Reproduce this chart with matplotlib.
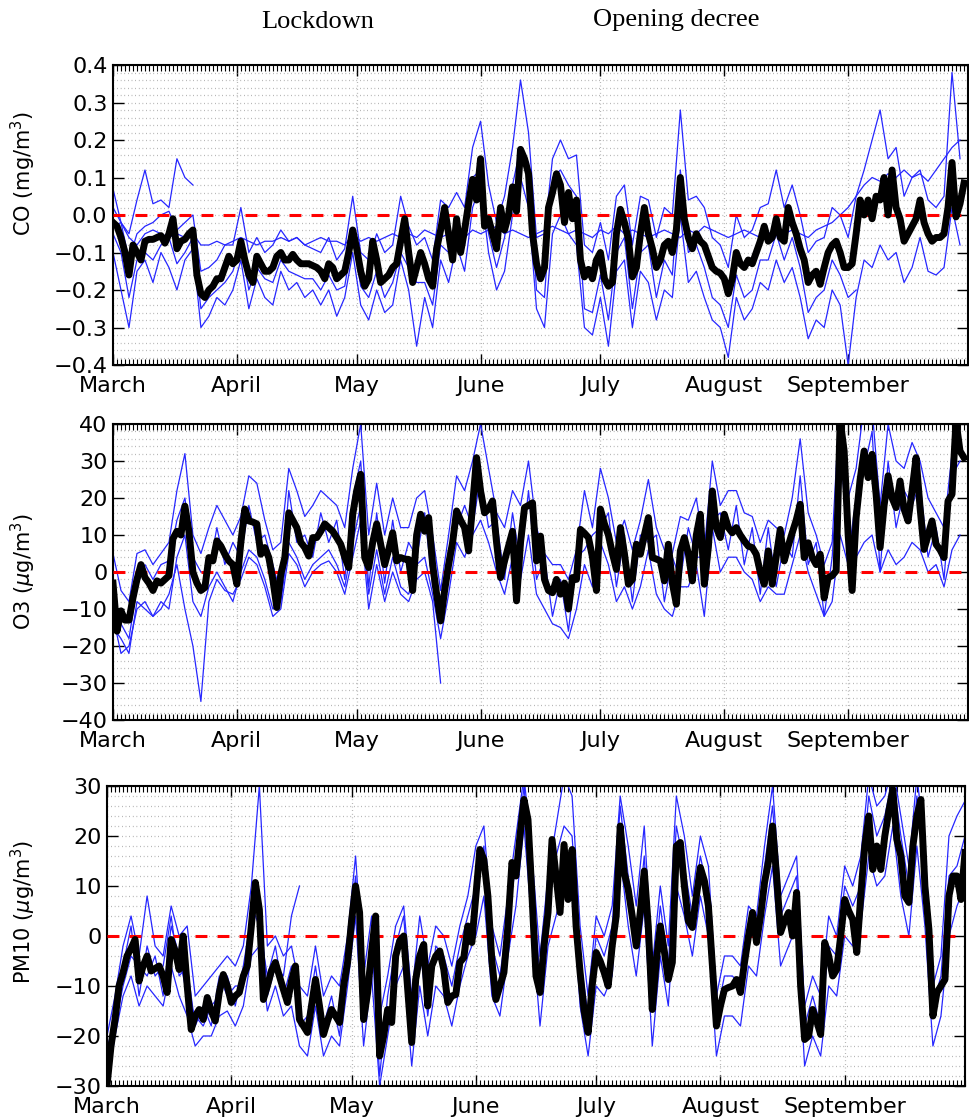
import numpy as np
import matplotlib
matplotlib.use("Agg")
import matplotlib.pyplot as plt
from matplotlib.ticker import MultipleLocator, FuncFormatter

# ---------------- data (daily values from 1 March) ----------------
months = ["March", "April", "May", "June", "July", "August", "September"]
month_days = [0, 31, 61, 92, 122, 153, 184]

co_mean = [-0.02,-0.03,-0.06,-0.10,-0.16,-0.08,-0.10,-0.12,-0.07,-0.065,-0.065,-0.06,-0.055,-0.075,-0.05,-0.01,-0.09,-0.07,-0.065,-0.05,
           -0.04,-0.16,-0.21,-0.22,-0.20,-0.19,-0.17,-0.17,-0.14,-0.11,-0.13,-0.12,-0.07,-0.12,-0.16,-0.18,-0.11,-0.13,-0.15,-0.15,
           -0.14,-0.11,-0.10,-0.12,-0.12,-0.105,-0.12,-0.13,-0.13,-0.13,-0.135,-0.14,-0.15,-0.17,-0.13,-0.14,-0.17,-0.16,-0.15,-0.10,
           -0.04,-0.09,-0.15,-0.19,-0.17,-0.07,-0.12,-0.18,-0.17,-0.16,-0.14,-0.13,-0.07,-0.01,-0.10,-0.18,-0.14,-0.10,-0.13,-0.17,
           -0.19,-0.09,-0.04,0.02,-0.05,-0.12,-0.01,-0.10,-0.04,0.03,0.095,0.04,0.15,-0.03,-0.01,-0.05,-0.09,0.02,-0.04,0.00,
           0.075,0.01,0.175,0.15,0.11,-0.05,-0.13,-0.17,-0.14,0.02,0.06,0.11,0.08,-0.02,0.06,-0.01,0.04,-0.12,-0.165,-0.145,
           -0.17,-0.12,-0.10,-0.17,-0.19,-0.18,-0.05,0.015,-0.02,-0.065,-0.165,-0.14,-0.05,0.02,-0.05,-0.09,-0.14,-0.12,-0.08,-0.07,
           -0.10,-0.04,0.10,-0.01,-0.06,-0.09,-0.05,-0.07,-0.08,-0.11,-0.14,-0.15,-0.155,-0.17,-0.21,-0.17,-0.10,-0.13,-0.14,-0.12,
           -0.13,-0.10,-0.07,-0.03,-0.07,-0.06,-0.01,-0.06,-0.07,0.02,-0.02,-0.05,-0.09,-0.12,-0.18,-0.16,-0.15,-0.185,-0.14,-0.10,
           -0.08,-0.07,-0.10,-0.14,-0.14,-0.13,-0.05,0.04,0.00,0.04,-0.01,0.05,0.04,0.10,0.00,0.12,0.02,-0.01,-0.07,-0.05,
           -0.03,-0.01,0.04,-0.02,-0.05,-0.07,-0.06,-0.06,-0.05,0.02,0.14,-0.005,0.03,0.085]

# station series, one value every second day
co_st1 = [-0.03,-0.02,-0.06,-0.08,-0.05,-0.04,-0.05,-0.06,-0.05,-0.06,-0.05,-0.08,-0.08,-0.07,-0.08,-0.07,-0.06,-0.07,-0.08,-0.07,
          -0.07,-0.06,-0.07,-0.06,-0.08,-0.07,-0.06,-0.07,-0.07,-0.08,-0.05,-0.07,-0.06,-0.07,-0.06,-0.05,-0.06,-0.05,-0.06,-0.04,
          -0.05,-0.06,-0.05,-0.05,-0.06,-0.04,-0.05,-0.04,-0.03,-0.05,-0.04,-0.05,-0.06,-0.05,-0.04,-0.03,-0.04,-0.05,-0.04,-0.05,
          -0.06,-0.04,-0.05,-0.03,-0.05,-0.04,-0.05,-0.06,-0.05,-0.04,-0.05,-0.06,-0.04,-0.05,-0.03,-0.04,-0.05,-0.06,-0.05,-0.04,
          -0.05,-0.06,-0.05,-0.04,-0.05,-0.04,-0.05,-0.06,-0.04,-0.03,-0.02,0.00,0.02,0.05,0.08,0.10,0.09,0.11,0.10,0.12,
          0.10,0.11,0.09,0.12,0.15,0.18,0.20]
co_st2 = [0.07,-0.02,-0.05,0.04,0.12,0.03,0.04,0.02,0.15,0.10,0.08]
co_st3 = [-0.10,-0.20,-0.30,-0.15,-0.12,-0.18,-0.10,-0.14,-0.20,-0.12,-0.09,-0.30,-0.27,-0.22,-0.24,-0.20,-0.12,-0.25,-0.17,-0.22,
          -0.24,-0.15,-0.20,-0.18,-0.22,-0.20,-0.24,-0.20,-0.27,-0.22,-0.10,-0.24,-0.28,-0.20,-0.26,-0.24,-0.12,-0.20,-0.35,-0.22,
          -0.30,-0.12,-0.18,-0.08,-0.15,0.02,0.08,-0.10,-0.20,-0.15,0.00,0.10,0.02,-0.25,-0.30,-0.05,0.00,-0.05,-0.08,-0.30,
          -0.32,-0.22,-0.35,-0.15,-0.12,-0.30,-0.15,-0.18,-0.28,-0.20,-0.22,0.00,-0.18,-0.15,-0.22,-0.28,-0.30,-0.38,-0.22,-0.28,
          -0.25,-0.18,-0.20,-0.12,-0.18,-0.14,-0.22,-0.33,-0.28,-0.30,-0.20,-0.24,-0.40,-0.22,-0.12,-0.14,-0.08,-0.12,-0.10,-0.18,
          -0.14,-0.06,-0.15,-0.16,-0.14,0.02,-0.08]
co_st4 = [0.02,-0.02,-0.12,-0.05,-0.03,-0.02,0.00,0.01,-0.04,-0.02,0.00,-0.15,-0.14,-0.12,-0.08,-0.08,0.02,-0.10,-0.06,-0.10,
          -0.08,-0.04,-0.07,-0.06,-0.08,-0.09,-0.10,-0.06,-0.12,-0.09,0.05,-0.10,-0.12,-0.05,-0.10,-0.08,0.05,-0.03,-0.08,-0.06,
          -0.12,0.04,0.02,0.06,0.02,0.18,0.25,0.08,-0.02,0.05,0.18,0.36,0.22,-0.06,-0.05,0.15,0.20,0.15,0.16,-0.08,
          -0.10,-0.02,-0.12,0.05,0.08,-0.08,0.05,0.04,-0.06,0.02,0.00,0.28,0.04,0.05,0.02,-0.06,-0.08,-0.14,0.00,-0.06,
          -0.04,0.02,0.03,0.12,0.02,0.08,0.00,-0.10,-0.07,-0.06,0.02,0.00,-0.06,0.05,0.12,0.20,0.28,0.15,0.18,0.05,
          0.10,0.12,0.04,0.02,0.05,0.38,0.15]
co_st5 = [-0.05,-0.10,-0.22,-0.12,-0.10,-0.12,-0.08,-0.06,-0.13,-0.10,-0.06,-0.25,-0.22,-0.20,-0.18,-0.15,-0.08,-0.20,-0.14,-0.17,
          -0.18,-0.12,-0.15,-0.16,-0.17,-0.17,-0.20,-0.16,-0.20,-0.19,-0.06,-0.19,-0.22,-0.15,-0.22,-0.18,-0.10,-0.14,-0.18,-0.18,
          -0.24,-0.08,-0.10,-0.04,-0.08,0.10,0.12,-0.05,-0.14,-0.06,0.08,0.18,0.14,-0.20,-0.22,0.10,0.12,0.08,0.05,-0.25,
          -0.26,-0.16,-0.28,-0.10,-0.06,-0.25,-0.10,-0.08,-0.22,-0.12,-0.16,0.12,-0.10,-0.08,-0.14,-0.22,-0.24,-0.30,-0.16,-0.22,
          -0.20,-0.12,-0.12,-0.05,-0.12,-0.06,-0.14,-0.26,-0.22,-0.20,-0.12,-0.16,-0.22,-0.20]

o3_mean = [-3,-16,-10.5,-13,-13,-7,-2,2,-1.5,-3,-5,-2.4,-3,-2,-1,9,11,10,17.8,11,
           0,-3,-5,-4.2,3.9,3,8.4,7,4.8,3,2,-3.3,8,17,13.8,13.5,13,4.8,6.6,3.9,
           -2,-9.6,-0.6,3.9,16,14,12,8,6.6,4.3,9.3,9.3,11,13,12,11,9.3,7.5,4,1.2,
           15.6,22,26.4,3.9,1.2,8,13,7.5,2,6,10.6,3,3.9,3.5,3.4,-5,10,15.6,11,14.7,
           2,-6,-13.2,-5,2,8,16.5,14,12,5.7,18,30.9,21.9,16,17,19.2,8,-1.5,3,7,
           11,-7.8,8,17.4,18,18.7,3,9.7,-2,-5,-5.6,-2,-6,-3,-10,-1.5,-2,11.5,10.5,9.3,
           4,-5,17,13,10,5,0.7,12,5,-3.3,-2,7.5,4.8,10,14.7,3.9,3.5,3,-2.4,7.5,
           -3,-8.7,5.7,9.3,5,-2.4,10,15.6,-3.3,6.6,21.9,12,9.3,15.6,12,10.6,12,10,8.4,7,
           6.6,4.8,0,-3.3,5.7,-3.3,4,11.5,3,7,10.6,14,18.3,3.9,7.9,4,2,4.8,-7,-1.5,
           -1,0.3,41,32.7,10,-5,14.7,25,32.7,25.5,31.8,21,6.6,18,26,20,17.4,24.6,17,13.8,
           22,30.9,17.4,6.1,10,13.8,7.5,6,3.9,19.2,21,40.8,32.7,30.9]

o3_st1 = [5,-5,-8,5,6,2,5,8,22,32,10,5,12,18,14,10,15,26,24,14,
          6,8,28,22,15,18,22,20,18,12,28,40,10,24,10,20,12,12,20,22,
          10,-5,10,26,22,30,40,28,16,12,22,18,30,12,5,2,2,-2,6,22,
          12,28,20,8,14,6,14,25,12,6,5,15,14,20,6,30,18,22,22,16,
          15,8,14,12,10,20,36,16,10,2,8,48,20,28,45,44,18,40,30,28,
          35,30,20,16,12,32,45]
o3_st2 = [-12,-22,-20,-10,-8,-12,-10,-6,2,-10,-20,-35,-8,-2,-5,-6,-2,4,2,-4,
          -12,-10,5,2,-4,0,2,3,0,-6,4,14,-10,2,-8,0,-6,-8,-2,0,
          -8,-30]
o3_st3 = [-8,-14,-18,-4,2,-2,2,3,14,20,4,0,0,12,2,8,4,18,8,10,
          2,-6,22,8,10,4,16,8,14,-2,20,30,-4,16,-3,14,0,8,4,16,
          -4,-8,6,12,18,12,26,12,14,-2,16,2,22,-2,4,-12,-2,-16,4,6,
          10,12,16,-4,10,-8,10,8,10,-8,4,-2,12,4,4,14,16,6,18,2,
          12,-6,12,-4,8,4,26,2,8,-12,4,36,4,20,28,38,0,30,12,22,
          18,24,4,12,-2,26,30]
o3_st4 = [-15,-18,-22,-8,-10,-12,-8,-10,4,10,-8,-12,-4,0,-4,-8,0,6,4,-2,
          -10,-8,8,4,-2,2,4,6,2,-4,8,18,-6,6,-6,4,-4,-6,2,4,
          -6,-18,-6,8,4,10,14,8,0,-6,4,-2,10,-6,-10,-14,-15,-18,-10,2,
          -4,8,2,-8,-4,-10,-4,6,-6,-10,-12,-4,-4,2,-12,12,0,4,4,0,
          -2,-8,-4,-6,-6,2,10,0,-6,-12,-8,10,2,4,8,10,0,6,2,4,
          8,6,0,2,-4,6,10]

pm10_mean = [-30,-22,-16.7,-10,-7.3,-4,-2.5,-0.7,-9,-6,-4,-7,-6.5,-6,-8,-11.3,-0.7,-3,-6.7,0,
             -10,-18.7,-16,-14.7,-16.7,-12.3,-15,-17,-11.3,-7.7,-10,-13.3,-12,-11.3,-8,-6,2,10.7,5.3,-12.7,
             -10,-7,-5.3,-8,-10.7,-13.3,-9,-6,-16.7,-18,-19.3,-14,-8.7,-14,-19.7,-17,-14.7,-16,-17.3,-10,
             -5.3,3,10,4.7,-16.7,-11.3,-3,4,-24,-20,-14.7,-17.3,-4,-1,0,-10.7,-21.3,-8.7,-4,-1.7,
             -14,-6,-4,-3,-6.7,-13.3,-12,-11.7,-5.3,-4.3,2,-1.3,8,17.3,15.3,8,-5,-12.7,-10,-7.3,
             2,14.7,12,20,27.3,23.3,8,-8,-11.3,-2,4.7,19.3,12,4.7,18.3,7.3,17.3,2,-7.3,-15,
             -19.3,-10,-3.3,-5,-7.3,-10,-2,4,22,12.7,9.3,4,-2,4.7,13,2,-14.7,-5,2,-3,
             -8.7,-5.3,18,18.7,10,3,1.7,8,13.7,11,6,-6,-18,-14,-10.7,-10.3,-10,-8.7,-11.3,-5.3,
             0,4.7,-1.3,4,10.7,15,22,12,0.7,3,4.7,0,8.7,-10,-20.7,-20,-14.7,-17,-19.7,-1.3,
             -4,-8,-6.7,0,7.3,5,3.3,-3.3,8,18,24,13.3,18,13.3,20,25,29.3,19.3,16,8,
             6.7,18,24,27.3,10,1.3,-16,-11.3,-10,-8.7,8,12,12,7.3,16.7]

pm10_st1 = [-20,-12,-2,4,-4,8,-2,-4,6,0,2,-12,-10,-8,-6,-4,-6,-2,10,30,
            -2,0,-4,-2,-10,-12,-2,-12,-8,-10,0,16,-8,4,-16,-8,2,6,-12,4,
            -6,2,0,-6,2,8,18,22,2,-4,8,20,32,16,-4,12,22,32,28,2,
            -12,4,0,6,28,18,6,22,-6,10,-2,28,20,8,20,14,-12,-4,-4,-6,
            6,4,18,30,8,12,16,-14,-8,-12,4,0,14,10,16,32,26,28,34,24,
            14,32,18,-10,-4,20,24,27]
pm10_st2 = [-30,-20,-12,-8,-14,-10,-12,-14,-6,-12,-16,-22,-20,-20,-16,-15,-18,-14,-4,-2,
            -15,-10,-16,-14,-22,-24,-14,-24,-20,-22,-10,4,-22,-8,-30,-20,-10,-6,-26,-10,
            -20,-10,-12,-18,-10,-4,0,8,-12,-16,-4,6,22,2,-18,-2,4,10,10,-14,
            -24,-10,-12,-8,16,2,-8,6,-22,-4,-14,10,4,-4,8,0,-24,-16,-16,-18,
            -6,-8,4,14,-6,-2,2,-26,-20,-24,-10,-12,0,-2,2,16,10,12,22,8,
            0,18,2,-22,-16,0,6,10]
pm10_st3 = [-26,-14,-6,2,-12,-2,-8,-6,4,-8,-6,-18,-14,-18,-8,-12,-10,-10,6,2,
            -8,-2,-12,-6,-18,-16,-6,-18,-12,-20,-2,12,-14,0,-28,-12,-2,4,-18,-2,
            -16,-2,-4,-10,-2,4,10,18,-2,-8,4,14,30,10,-8,8,16,22,20,-4,
            -16,0,-4,2,26,12,0,16,-12,6,-6,22,14,4,16,8,-16,-8,-8,-10,
            2,0,14,26,4,8,12,-18,-12,-18,-2,-4,10,6,10,28,20,24,32,20,
            10,28,14,-14,-8,12,14,20]
pm10_st4 = [-22,-18,-10,-4,-6,-8,-4,-12,2,-4,-12,-16,-18,-14,-12,-8,-14,-6,4,8,
            -12,-6,-8,4,10]

ylabels = ["CO (mg/m$^3$)", "O3 ($\\mu$g/m$^3$)", "PM10 ($\\mu$g/m$^3$)"]

# ---------------- figure ----------------
W, H = 970, 1119
fig = plt.figure(figsize=(W / 100, H / 100), dpi=100)

def frac(l, t, r, b):
    return [l / W, 1 - b / H, (r - l) / W, (b - t) / H]

boxes = [frac(113, 65, 968, 365), frac(113, 424, 968, 720), frac(107, 786, 965, 1086)]

def fmt_co(v, p):
    s = "%.1f" % v
    if s == "-0.0":
        s = "0.0"
    return s.replace("-", "\u2212")

def fmt_int(v, p):
    return ("%d" % round(v)).replace("-", "\u2212")

panels = [
    (co_mean, [co_st1, co_st2, co_st3, co_st4, co_st5], (-0.4, 0.4), 0.1, 0.02, fmt_co, -0.088, 0.64),
    (o3_mean, [o3_st1, o3_st2, o3_st3, o3_st4], (-40, 40), 10, 2, fmt_int, -0.088, 0.5),
    (pm10_mean, [pm10_st1, pm10_st2, pm10_st3, pm10_st4], (-30, 30), 10, 2, fmt_int, -0.080, 0.58),
]

grid_kw = dict(color="#a0a0a0", linewidth=0.9, linestyle=(0, (0.6, 2.3)))

for i, (box, (mean, stations, ylim, major, minor, fmt, lx, ly)) in enumerate(zip(boxes, panels)):
    ax = fig.add_axes(box)
    for st in stations:
        ax.plot(np.arange(len(st)) * 2, st, color=(0.15, 0.15, 1.0), lw=0.9, zorder=2)
    ax.axhline(0, color="#ff0000", lw=2.2, dashes=(3.9, 3.3), zorder=3)
    ax.plot(np.arange(len(mean)), mean, color="black", lw=5, zorder=4,
            solid_joinstyle="round")
    ax.set_xlim(0, 214)
    ax.set_ylim(*ylim)
    ax.set_xticks(month_days)
    ax.set_xticklabels(months)
    ax.xaxis.set_minor_locator(MultipleLocator(1))
    ax.yaxis.set_major_locator(MultipleLocator(major))
    ax.yaxis.set_minor_locator(MultipleLocator(minor))
    ax.yaxis.set_major_formatter(FuncFormatter(fmt))
    ax.grid(True, which="both", axis="y", **grid_kw)
    ax.grid(True, which="major", axis="x", **grid_kw)
    ax.set_axisbelow(True)
    ax.tick_params(axis="both", which="both", direction="in", top=True, right=True,
                   labelsize=16, colors="black")
    ax.tick_params(axis="x", which="major", length=8, width=1, pad=8)
    ax.tick_params(axis="x", which="minor", length=4, width=0.8)
    ax.tick_params(axis="y", which="major", length=8, width=1, pad=4)
    ax.tick_params(axis="y", which="minor", length=0)
    for sp in ax.spines.values():
        sp.set_linewidth(1.5)
    ax.set_ylabel(ylabels[i], fontsize=15)
    ax.yaxis.set_label_coords(lx, ly)

fig.text(318 / W, 1 - 22 / H, "Lockdown", family="Liberation Serif", fontsize=19,
         ha="center", va="center")
fig.text(676 / W, 1 - 20 / H, "Opening decree", family="Liberation Serif", fontsize=19,
         ha="center", va="center")

fig.savefig("out.png", dpi=100)
